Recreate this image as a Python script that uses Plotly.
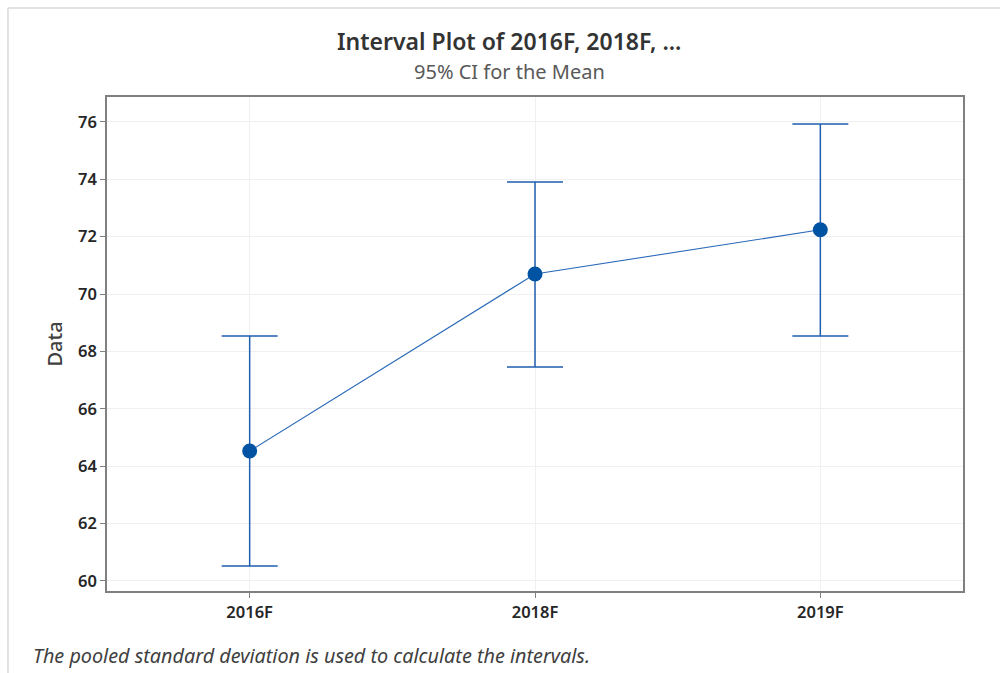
import plotly.graph_objects as go

# Interval data: group means with 95% CI bounds
groups = ["2016F", "2018F", "2019F"]
means = [64.53, 70.70, 72.24]
upper = [68.54, 73.91, 75.93]
lower = [60.52, 67.46, 68.54]

y_ticks = [60, 62, 64, 66, 68, 70, 72, 74, 76]

err_plus = [u - m for u, m in zip(upper, means)]
err_minus = [m - l for m, l in zip(means, lower)]

fig = go.Figure()
fig.add_trace(go.Scatter(
    x=groups, y=means, mode="lines+markers",
    line=dict(color="#2a6ab8", width=1.1),
    marker=dict(color="#0052a3", size=15),
    error_y=dict(type="data", symmetric=False, array=err_plus, arrayminus=err_minus,
                 color="#1f5faf", thickness=1.5, width=28),
    showlegend=False, hoverinfo="skip",
))

font_family = "Noto Sans"
tick_font = dict(size=16.5, color="#262626", weight=600)
fig.update_layout(
    width=1000, height=673,
    margin=dict(l=107, r=37, t=97, b=82),
    paper_bgcolor="white", plot_bgcolor="white",
    font=dict(family=font_family, color="#262626"),
    xaxis=dict(
        type="category", range=[-0.5, 2.5],
        showgrid=True, gridcolor="#f0f0f0", gridwidth=1,
        showline=True, linecolor="#808080", linewidth=1.5, mirror=True,
        ticks="outside", ticklen=5, tickcolor="#808080",
        tickfont=tick_font,
        zeroline=False,
    ),
    yaxis=dict(
        range=[59.65, 76.87], tickvals=y_ticks,
        showgrid=True, gridcolor="#f0f0f0", gridwidth=1,
        showline=True, linecolor="#808080", linewidth=1.5, mirror=True,
        ticks="outside", ticklen=5, tickcolor="#808080",
        tickfont=tick_font,
        title=dict(text="Data", font=dict(size=20, color="#404040", weight=500), standoff=10),
        zeroline=False,
    ),
    shapes=[
        # outer light frame around the graph region
        dict(type="line", xref="paper", yref="paper",
             x0=-0.1157, x1=-0.1157, y0=-0.2, y1=1.180,
             line=dict(color="#d9d9d9", width=1.5)),
        dict(type="line", xref="paper", yref="paper",
             x0=-0.1157, x1=1.05, y0=1.180, y1=1.180,
             line=dict(color="#d9d9d9", width=1.5)),
    ],
    annotations=[
        dict(text="Interval Plot of 2016F, 2018F, ...", xref="paper", yref="paper",
             x=(509 - 107) / 856, y=(591 - 41) / 494, xanchor="center", yanchor="middle",
             showarrow=False, font=dict(size=23, color="#333333", weight=600)),
        dict(text="95% CI for the Mean", xref="paper", yref="paper",
             x=(509 - 107) / 856, y=(591 - 71) / 494, xanchor="center", yanchor="middle",
             showarrow=False, font=dict(size=20, color="#595959")),
        dict(text="<i>The pooled standard deviation is used to calculate the intervals.</i>",
             xref="paper", yref="paper",
             x=(31 - 107) / 856, y=(591 - 655) / 494, xanchor="left", yanchor="middle",
             showarrow=False, font=dict(size=19.8, color="#404040")),
    ],
)

fig.write_html("out.html")
